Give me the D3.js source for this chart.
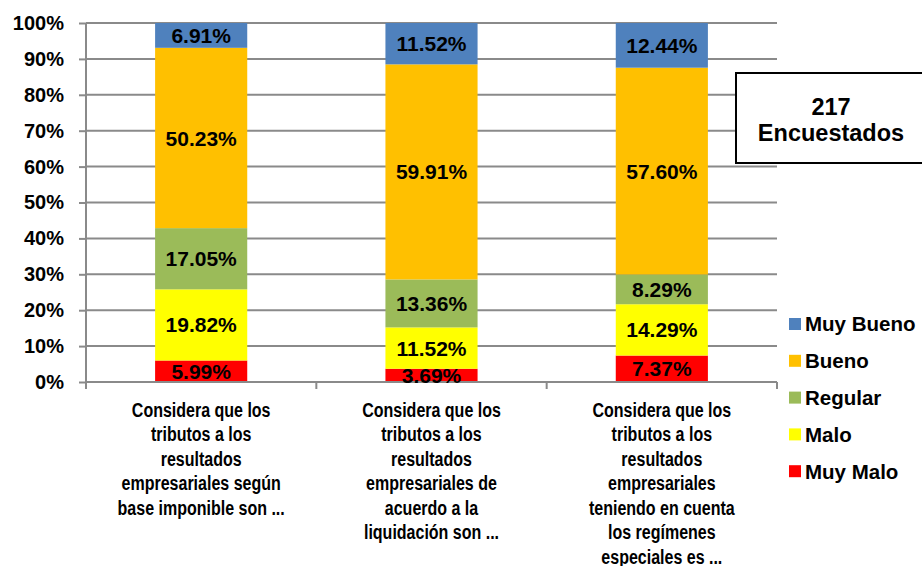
<!DOCTYPE html>
<html><head><meta charset="utf-8">
<script src="https://cdn.jsdelivr.net/npm/d3@7"></script>
<style>body{margin:0;background:#fff}svg{display:block;font-family:"Liberation Sans",Arial,sans-serif;font-weight:bold}</style>
</head><body><svg id="c" width="922" height="566"></svg>
<script>
const categories = ["c1","c2","c3"];
const categoryLines = [
  ["Considera que los","tributos a los","resultados","empresariales según","base imponible son ..."],
  ["Considera que los","tributos a los","resultados","empresariales de","acuerdo a la","liquidación son ..."],
  ["Considera que los","tributos a los","resultados","empresariales","teniendo en cuenta","los regímenes","especiales es ..."]
];
const seriesNames = ["Muy Malo","Malo","Regular","Bueno","Muy Bueno"];
const muyMalo  = [5.99, 3.69, 7.37];
const malo     = [19.82, 11.52, 14.29];
const regular  = [17.05, 13.36, 8.29];
const bueno    = [50.23, 59.91, 57.60];
const muyBueno = [6.91, 11.52, 12.44];
const colors = ["#FF0000","#FFFF00","#9BBB59","#FFC000","#4F81BD"];
const yTicks = [0,10,20,30,40,50,60,70,80,90,100];

const seriesVals = [muyMalo, malo, regular, bueno, muyBueno];
const rows = categories.map((c,i)=>{const o={cat:c}; seriesNames.forEach((s,j)=>o[s]=seriesVals[j][i]); return o;});
const stack = d3.stack().keys(seriesNames)(rows);

const svg = d3.select("#c");
const L=86, R=777, T=23, B=382;
const x = d3.scaleBand().domain(categories).range([L,R]).paddingInner(0.6).paddingOuter(0.3);
const y = d3.scaleLinear().domain([0,100]).range([B,T]);

// gridlines
svg.append("g").selectAll("line").data(yTicks.filter(t=>t>0)).join("line")
  .attr("x1",L).attr("x2",R).attr("y1",d=>y(d)).attr("y2",d=>y(d))
  .attr("stroke","#8a8a8a").attr("stroke-width",2);

// y axis
const ya = svg.append("g").attr("transform",`translate(${L},0)`).call(d3.axisLeft(y).tickValues(yTicks).tickSize(7).tickPadding(15).tickFormat(d=>d+"%"));
ya.select(".domain").remove();
ya.selectAll(".tick line").attr("stroke","#8a8a8a").attr("stroke-width",2);
ya.selectAll(".tick text").attr("font-size",20).attr("font-family","Liberation Sans, Arial").attr("font-weight","bold").attr("fill","#000");
svg.append("line").attr("x1",L).attr("x2",L).attr("y1",T).attr("y2",B+7).attr("stroke","#8a8a8a").attr("stroke-width",2);

// bars
const g = svg.append("g");
stack.forEach((s,j)=>{
  g.append("g").selectAll("rect").data(s).join("rect")
    .attr("x",d=>x(d.data.cat)).attr("width",x.bandwidth())
    .attr("y",d=>y(d[1])).attr("height",d=>y(d[0])-y(d[1]))
    .attr("fill",colors[j]);
});

// x axis baseline and ticks
svg.append("line").attr("x1",L).attr("x2",R).attr("y1",B).attr("y2",B).attr("stroke","#8a8a8a").attr("stroke-width",2);
const step = x.step();
svg.append("g").selectAll("line").data(d3.range(categories.length+1)).join("line")
  .attr("x1",i=>L+i*step).attr("x2",i=>L+i*step).attr("y1",B).attr("y2",B+7)
  .attr("stroke","#8a8a8a").attr("stroke-width",2);

// data labels
stack.forEach((s,j)=>{
  svg.append("g").selectAll("text").data(s).join("text")
    .attr("x",d=>x(d.data.cat)+x.bandwidth()/2)
    .attr("y",d=>(y(d[0])+y(d[1]))/2)
    .attr("dy","0.36em").attr("text-anchor","middle")
    .attr("font-size",21).attr("fill","#000")
    .text(d=>(d[1]-d[0]).toFixed(2)+"%");
});

// category labels
categories.forEach((c,i)=>{
  const cx = x(c)+x.bandwidth()/2;
  const t = svg.append("g").attr("transform",`translate(${cx},0) scale(0.8,1)`);
  t.selectAll("text").data(categoryLines[i]).join("text")
    .attr("x",0).attr("y",(d,k)=>417+k*24.5).attr("text-anchor","middle")
    .attr("font-size",20).attr("fill","#000").text(d=>d);
});

// legend
const legendOrder = seriesNames.map((n,j)=>({n,c:colors[j]})).reverse();
const lg = svg.append("g");
legendOrder.forEach((d,k)=>{
  const yy = 324 + k*36.8;
  lg.append("rect").attr("x",789).attr("y",yy-6).attr("width",12).attr("height",12).attr("fill",d.c);
  lg.append("text").attr("x",805).attr("y",yy).attr("dy","0.36em").attr("font-size",20.5).attr("fill","#000").text(d.n);
});

// annotation box
svg.append("rect").attr("x",736).attr("y",73).attr("width",200).attr("height",90).attr("fill","#fff").attr("stroke","#000").attr("stroke-width",2);
svg.append("text").attr("x",831).attr("y",115).attr("text-anchor","middle").attr("font-size",23.5).attr("fill","#000").text("217");
svg.append("text").attr("x",831).attr("y",141).attr("text-anchor","middle").attr("font-size",23.5).attr("fill","#000").text("Encuestados");
</script></body></html>
